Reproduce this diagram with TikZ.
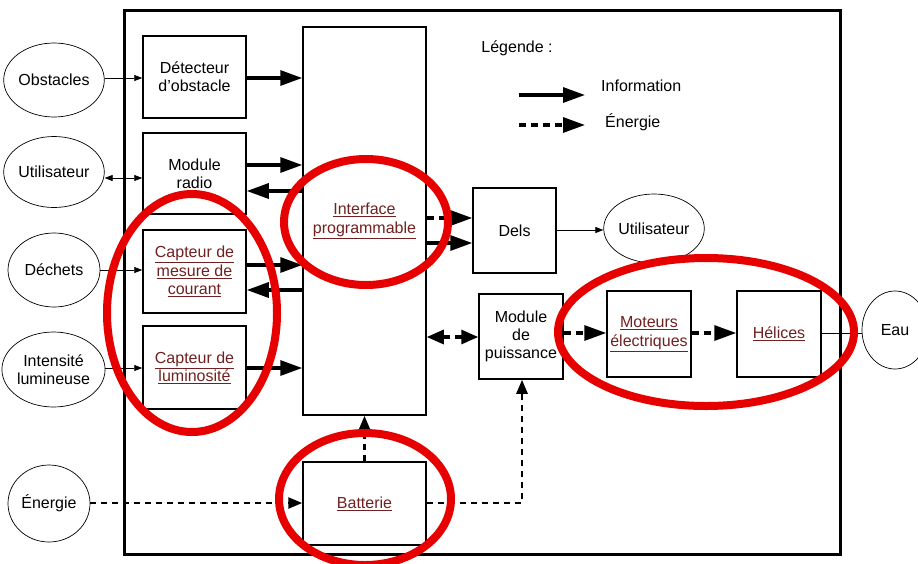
\documentclass[tikz,border=0pt]{standalone}
\usepackage{fontspec}
\setmainfont{Liberation Sans}
\usetikzlibrary{arrows.meta,shapes.geometric}
\definecolor{lnk}{RGB}{112,32,32}
\definecolor{ring}{RGB}{230,0,0}
\tikzset{
  every node/.style={font=\fontsize{16}{18.3}\selectfont, inner sep=0pt},
  blk/.style={draw, line width=1.5pt, minimum width=#1},
  ext/.style={draw, ellipse, line width=0.7pt},
  thin arr/.style={line width=0.7pt, -{Triangle[length=8pt,width=6pt]}},
  info/.style={line width=3.2pt, -{Triangle[length=22pt,width=15pt]}},
  ener/.style={line width=3.2pt, dash pattern=on 7pt off 5pt, -{Triangle[length=22pt,width=15pt]}},
  enersm/.style={line width=2.6pt, dash pattern=on 6pt off 5pt, -{Triangle[length=14pt,width=11pt]}},
  redring/.style={draw=ring, line width=8pt},
}
\newcommand{\ul}[1]{\textcolor{lnk}{\underline{#1}}}
\begin{document}
\begin{tikzpicture}[x=1pt,y=-1pt]
\useasboundingbox (0,0) rectangle (918,563);
% frame
\node[draw, line width=3pt, minimum width=716pt, minimum height=544pt] (frame) at (482,282) {};
% boxes
\node[blk=103pt, minimum height=82pt, align=center] (det) at (194.5,77) {Détecteur\\d'obstacle};
\node[blk=103pt, minimum height=81pt, align=center] (radio) at (194.5,173.5) {Module\\radio};
\node[blk=103pt, minimum height=83pt, align=center] (cour) at (194.5,271.5) {\ul{Capteur de}\\\ul{mesure de}\\\ul{courant}};
\node[blk=103pt, minimum height=83pt, align=center] (lum) at (194.5,367.5) {\ul{Capteur de}\\\ul{luminosité}};
\node[blk=123pt, minimum height=388pt, align=center] (iface) at (364.5,221) {\ul{Interface}\\\ul{programmable}};
\node[blk=123pt, minimum height=83pt] (batt) at (364.5,503.5) {\ul{Batterie}};
\node[blk=83pt, minimum height=85pt] (dels) at (514.5,230.5) {Dels};
\node[blk=84pt, minimum height=85pt, align=center] (puis) at (521,336.5) {Module\\de\\puissance};
\node[blk=84pt, minimum height=86pt, align=center] (mot) at (649,334) {\ul{Moteurs}\\\ul{électriques}};
\node[blk=84pt, minimum height=86pt] (hel) at (779,334) {\ul{Hélices}};
% external ellipses
\node[ext, minimum width=92pt, minimum height=74pt] (obst) at (54,80) {Obstacles};
\node[ext, minimum width=92pt, minimum height=71pt] (util) at (54,172) {Utilisateur};
\node[ext, minimum width=92pt, minimum height=74pt] (dech) at (54,270) {Déchets};
\node[ext, minimum width=93pt, minimum height=75pt, align=center] (inten) at (53.5,369.5) {Intensité\\lumineuse};
\node[ext, minimum width=82pt, minimum height=77pt] (energ) at (49,503.5) {Énergie};
\node[ext, minimum width=94pt, minimum height=69pt] (util2) at (654,228.5) {Utilisateur};
\node[ext, minimum width=66pt, minimum height=78pt] (eau) at (895,330) {Eau};
% legend
\node (leg) at (517,48) {Légende :};
\coordinate (li1) at (519,95);
\coordinate (li2) at (585,95);
\coordinate (le1) at (519,125);
\coordinate (le2) at (585,125);
\draw[info] (li1) -- (li2);
\draw[ener] (le1) -- (le2);
\node[anchor=west] (linfo) at (601,86) {Information};
\node[anchor=west] (lener) at (605,122) {Énergie};
% y levels
\coordinate (y78) at (0,78);
\coordinate (y165) at (0,165);
\coordinate (y178) at (0,178);
\coordinate (y191) at (0,191);
\coordinate (y265) at (0,265);
\coordinate (y270) at (0,270);
\coordinate (y290) at (0,290);
\coordinate (y368) at (0,368);
\coordinate (y218) at (0,218);
\coordinate (y243) at (0,243);
\coordinate (y230) at (0,230);
\coordinate (y337) at (0,337);
\coordinate (y333) at (0,333);
\coordinate (y503) at (0,503);
% thin arrows
\draw[thin arr] (obst.east |- y78) -- (det.west |- y78);
\draw[thin arr, {Triangle[length=8pt,width=6pt]}-{Triangle[length=8pt,width=6pt]}] (util.east |- y178) -- (radio.west |- y178);
\draw[thin arr] (dech.east |- y270) -- (cour.west |- y270);
\draw[thin arr] (inten.east |- y368) -- (lum.west |- y368);
\draw[thin arr] (dels.east |- y230) -- (util2.west |- y230);
\draw[line width=0.7pt] (hel.east |- y333) -- (eau.west |- y333);
% information arrows
\draw[info] (det.east |- y78) -- (iface.west |- y78);
\draw[info] (radio.east |- y165) -- (iface.west |- y165);
\draw[info] (iface.west |- y191) -- (radio.east |- y191);
\draw[info] (cour.east |- y265) -- (iface.west |- y265);
\draw[info] (iface.west |- y290) -- (cour.east |- y290);
\draw[info] (lum.east |- y368) -- (iface.west |- y368);
\draw[ener] (iface.east |- y218) -- (dels.west |- y218);
\draw[info] (iface.east |- y243) -- (dels.west |- y243);
\draw[line width=3.2pt, dash pattern=on 7pt off 5pt, {Triangle[length=17pt,width=14pt]}-{Triangle[length=17pt,width=14pt]}] (iface.east |- y337) -- (puis.west |- y337);
\draw[ener] (puis.east |- y333) -- (mot.west |- y333);
\draw[ener] (mot.east |- y333) -- (hel.west |- y333);
% energy from battery
\draw[enersm] (energ.east |- y503) -- (batt.west |- y503);
\draw[enersm] (batt.north) -- (iface.south);
\coordinate (bend) at (522,503);
\draw[enersm] (batt.east |- y503) -- (bend) -- (bend |- puis.south);
% red rings
\draw[redring] (192,313) ellipse [x radius=85pt, y radius=119pt];
\draw[redring] (366,222) ellipse [x radius=82pt, y radius=63pt];
\draw[redring] (365,499) ellipse [x radius=86pt, y radius=66pt];
\draw[redring] (706,332) ellipse [x radius=148pt, y radius=74pt];
\end{tikzpicture}
\end{document}
